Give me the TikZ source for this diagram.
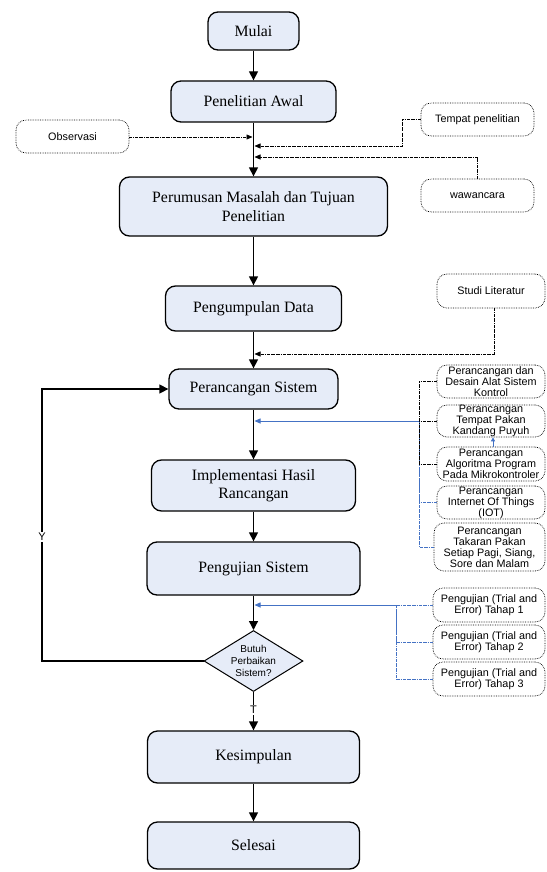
\documentclass[tikz,border=0pt]{standalone}
\usepackage{fontspec}
\setmainfont{Liberation Serif}
\newfontfamily\arialf{Liberation Sans}
\usetikzlibrary{arrows.meta,shapes.geometric,calc}
\definecolor{boxfill}{RGB}{230,236,248}
\definecolor{lblue}{RGB}{68,114,196}
\begin{document}
\begin{tikzpicture}[x=1pt,y=-1pt,
 mainbox/.style={draw,line width=1.3pt,rounded corners=10pt,fill=boxfill,inner sep=0pt,align=center,font=\fontsize{15.8}{18.5}\selectfont},
 sidebox/.style={draw,densely dotted,line width=0.7pt,rounded corners=10pt,fill=white,inner sep=0pt,align=center,font=\arialf\fontsize{10.8}{11}\selectfont},
 flow/.style={line width=1.3pt,-{Triangle[length=9pt,width=9pt]}},
 feedline/.style={densely dashdotted,line width=0.7pt},
 feed/.style={feedline,-{Triangle[length=6pt,width=5pt]}},
 bline/.style={feedline,draw=lblue},
 bfeed/.style={line width=0.8pt,draw=lblue,-{Triangle[length=6pt,width=5pt]},fill=lblue},
 lbl/.style={fill=white,inner sep=1.5pt,font=\arialf\fontsize{11}{12}\selectfont}]
\useasboundingbox (0,0) rectangle (546,872);
% main column
\node[mainbox,minimum width=91pt,minimum height=38pt] (mulai) at (253.5,31) {Mulai};
\node[mainbox,minimum width=165pt,minimum height=41pt] (awal) at (253.5,101.5) {Penelitian Awal};
\node[mainbox,minimum width=268pt,minimum height=59pt] (rumus) at (253.5,206.5) {Perumusan Masalah dan Tujuan\\Penelitian};
\node[mainbox,minimum width=176pt,minimum height=45pt] (kumpul) at (253.5,308.5) {Pengumpulan Data};
\node[mainbox,minimum width=169pt,minimum height=40pt] (rancang) at (253.5,389) {Perancangan Sistem};
\node[mainbox,minimum width=204pt,minimum height=51pt] (impl) at (253.5,485.5) {Implementasi Hasil\\Rancangan};
\node[mainbox,minimum width=213pt,minimum height=53pt] (uji) at (253.5,568.5) {Pengujian Sistem};
\node[diamond,draw,line width=1pt,fill=boxfill,aspect=1.62,inner sep=0pt,minimum width=99pt,minimum height=61pt,align=center,font=\arialf\fontsize{10}{12}\selectfont] (diam) at (253.5,661) {Butuh\\Perbaikan\\Sistem?};
\node[mainbox,minimum width=212pt,minimum height=52pt] (kes) at (253.5,757) {Kesimpulan};
\node[mainbox,minimum width=212pt,minimum height=47pt] (selesai) at (253.5,845.5) {Selesai};
% side boxes
\node[sidebox,minimum width=113pt,minimum height=33pt] (obs) at (72.5,136.5) {Observasi};
\node[sidebox,minimum width=113pt,minimum height=33pt] (tempat) at (477.5,119.5) {Tempat penelitian};
\node[sidebox,minimum width=113pt,minimum height=33pt] (wawan) at (477.5,195.5) {wawancara};
\node[sidebox,minimum width=108pt,minimum height=34pt] (studi) at (491,291) {Studi Literatur};
\node[sidebox,minimum width=108pt,minimum height=33pt] (desain) at (491,381.5) {Perancangan dan\\Desain Alat Sistem\\Kontrol};
\node[sidebox,minimum width=108pt,minimum height=32pt] (tpakan) at (491,421) {Perancangan\\Tempat Pakan\\Kandang Puyuh};
\node[sidebox,minimum width=108pt,minimum height=34pt] (algo) at (491,464) {Perancangan\\Algoritma Program\\Pada Mikrokontroler};
\node[sidebox,minimum width=108pt,minimum height=33pt] (iot) at (491,502.5) {Perancangan\\Internet Of Things\\(IOT)};
\node[sidebox,minimum width=111pt,minimum height=48pt] (takaran) at (489.5,547) {Perancangan\\Takaran Pakan\\Setiap Pagi, Siang,\\Sore dan Malam};
\node[sidebox,minimum width=112pt,minimum height=34pt] (t1) at (489,605) {Pengujian (Trial and\\Error) Tahap 1};
\node[sidebox,minimum width=112pt,minimum height=34pt] (t2) at (489,642) {Pengujian (Trial and\\Error) Tahap 2};
\node[sidebox,minimum width=112pt,minimum height=34pt] (t3) at (489,679) {Pengujian (Trial and\\Error) Tahap 3};
% coordinates on the main line and buses
\coordinate (jo) at (252.5,137);
\coordinate (j1) at (254.5,146);
\coordinate (j2) at (254.5,157);
\coordinate (j3) at (254.5,354);
\coordinate (j4) at (254.5,421);
\coordinate (j5) at (254.5,605);
\coordinate (busA) at (419,421);
\coordinate (busB) at (396,605);
\coordinate (lp) at (42,661);
% main flow
\draw[flow] (mulai) -- (awal);
\draw[flow] (awal) -- (rumus);
\draw[flow] (rumus) -- (kumpul);
\draw[flow] (kumpul) -- (rancang);
\draw[flow] (rancang) -- (impl);
\draw[flow] (impl) -- (uji);
\draw[flow] (uji) -- (diam);
\draw[flow] (diam.south) -- (kes.north);
\node[lbl] (tlab) at (253.5,710) {T};
\draw[flow] (kes) -- (selesai);
\draw[flow] (diam.west) -- (lp) |- (rancang.west);
\node[lbl] (ylab) at (42,537) {Y};
% feeds
\draw[feed] (obs.east |- jo) -- (jo);
\draw[feed] (tempat.west) -- ++(-18,0) |- (j1);
\draw[feed] (wawan.north) |- (j2);
\draw[feed] ([xshift=3pt]studi.south) |- (j3);
\draw[bline] (iot.west) -| (busA);
\draw[bline] (takaran.west) -| (busA);
\draw[feedline] (desain.west) -| (busA);
\draw[feedline] (algo.west) -| (busA);
\draw[feedline] (tpakan.west) -- (busA);
\draw[bfeed] (busA) -- (j4);
\draw[line width=0.8pt,draw=lblue,fill=lblue,-{Triangle[length=4pt,width=4pt]}] ([xshift=2pt]algo.north) -- ([xshift=2pt]tpakan.south);
\draw[bline] (t1.west) -- (busB);
\draw[bline] (t2.west) -| (busB);
\draw[bline] (t3.west) -| (busB);
\draw[bfeed] (busB) -- (j5);
\end{tikzpicture}
\end{document}
